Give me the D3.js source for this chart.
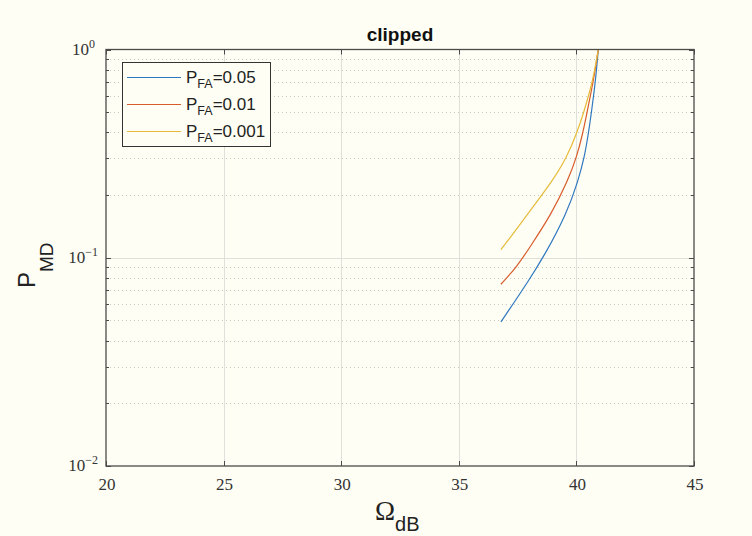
<!DOCTYPE html>
<html>
<head>
<meta charset="utf-8">
<script src="https://cdn.jsdelivr.net/npm/d3@7"></script>
<style>
body { margin:0; background:#fefef4; }
svg { display:block; }
</style>
</head>
<body>
<script>
// data
var omega_005 = [36.79, 37.32, 37.89, 38.59, 39.59, 40.08, 40.34, 40.51, 40.65, 40.76, 40.84, 40.93]
var pmd_005 = [0.0492, 0.0603, 0.0753, 0.1, 0.163, 0.235, 0.304, 0.394, 0.51, 0.636, 0.764, 1.0]
var omega_001 = [36.79, 37.46, 38.03, 38.95, 39.64, 40.01, 40.27, 40.47, 40.64, 40.77, 40.93]
var pmd_001 = [0.0746, 0.0903, 0.1127, 0.163, 0.235, 0.304, 0.394, 0.51, 0.636, 0.764, 1.0]
var omega_0001 = [36.79, 37.32, 37.94, 39.0, 39.59, 40.01, 40.34, 40.58, 40.75, 40.93]
var pmd_0001 = [0.1095, 0.1306, 0.163, 0.235, 0.304, 0.394, 0.51, 0.636, 0.764, 1.0]
var legend_labels = ["0.05", "0.01", "0.001"]
var x_ticks = [20, 25, 30, 35, 40, 45]
var y_ticks = [0.01, 0.1, 1]
var y_tick_exp = ["\u22122", "\u22121", "0"]
var colors = ["#2f78bf", "#d95b2a", "#e6bb3a"]

var w = 752, h = 536
var margin = {left:106, right:694, top:49.5, bottom:466}

var svg = d3.select("body").append("svg")
.attr("width", w)
.attr("height", h)

svg.append("rect")
.attr("width", w)
.attr("height", h)
.attr("fill", "#fefef4")

var x = d3.scaleLinear().domain([20, 45]).range([margin.left, margin.right])
var y = d3.scaleLog().domain([0.01, 1]).range([margin.bottom, margin.top])

// minor dotted grid
var minor = []
for (var d = 0.01; d < 1; d = d*10)
{
for (var k = 2; k <= 9; k++) minor.push(d*k)
}
svg.selectAll(".minorgrid").data(minor).enter().append("line")
.attr("class","minorgrid")
.attr("x1", margin.left).attr("x2", margin.right)
.attr("y1", function(d){ return Math.round(y(d))+0.5 })
.attr("y2", function(d){ return Math.round(y(d))+0.5 })
.attr("stroke", "#c8c8c0")
.attr("stroke-width", 1)
.attr("stroke-dasharray", "1,3")

// major grid
svg.selectAll(".vgrid").data(x_ticks.slice(1, -1)).enter().append("line")
.attr("class","vgrid")
.attr("x1", function(d){ return Math.round(x(d))+0.5 })
.attr("x2", function(d){ return Math.round(x(d))+0.5 })
.attr("y1", margin.top).attr("y2", margin.bottom)
.attr("stroke", "#e0e0da")
svg.selectAll(".hgrid").data([0.1]).enter().append("line")
.attr("class","hgrid")
.attr("x1", margin.left).attr("x2", margin.right)
.attr("y1", function(d){ return Math.round(y(d))+0.5 })
.attr("y2", function(d){ return Math.round(y(d))+0.5 })
.attr("stroke", "#e0e0da")

// curves
var series = [[omega_005, pmd_005], [omega_001, pmd_001], [omega_0001, pmd_0001]]
var line = d3.line()
.x(function(d){ return x(d[0]) })
.y(function(d){ return y(d[1]) })
.curve(d3.curveBasis)
series.forEach(function(s, i)
{
svg.append("path")
.datum(d3.zip(s[0], s[1]))
.attr("d", line)
.attr("fill", "none")
.attr("stroke", colors[i])
.attr("stroke-width", 1.2)
})

// box + ticks
var axis_color = "#4a4a4a"
svg.append("rect")
.attr("x", margin.left).attr("y", margin.top)
.attr("width", margin.right-margin.left)
.attr("height", margin.bottom-margin.top)
.attr("fill", "none")
.attr("stroke", axis_color)
.attr("stroke-width", 1.3)

x_ticks.forEach(function(t)
{
var xx = Math.round(x(t))+0.5
svg.append("line").attr("x1", xx).attr("x2", xx).attr("y1", margin.bottom).attr("y2", margin.bottom-5).attr("stroke", axis_color)
svg.append("line").attr("x1", xx).attr("x2", xx).attr("y1", margin.top).attr("y2", margin.top+5).attr("stroke", axis_color)
svg.append("text")
.attr("x", x(t)+1)
.attr("y", margin.bottom+24)
.attr("text-anchor", "middle")
.style("font-family", "Liberation Serif")
.style("font-size", "17px")
.attr("fill", "#333")
.text(t)
})
y_ticks.forEach(function(t)
{
var yy = Math.round(y(t))+0.5
svg.append("line").attr("x1", margin.left).attr("x2", margin.left+5).attr("y1", yy).attr("y2", yy).attr("stroke", axis_color)
svg.append("line").attr("x1", margin.right).attr("x2", margin.right-5).attr("y1", yy).attr("y2", yy).attr("stroke", axis_color)
})
minor.forEach(function(t)
{
var yy = Math.round(y(t))+0.5
svg.append("line").attr("x1", margin.left).attr("x2", margin.left+3).attr("y1", yy).attr("y2", yy).attr("stroke", axis_color)
svg.append("line").attr("x1", margin.right).attr("x2", margin.right-3).attr("y1", yy).attr("y2", yy).attr("stroke", axis_color)
})
y_ticks.forEach(function(t, i)
{
var tx = svg.append("text")
.attr("x", i == 2 ? 95 : 98)
.attr("y", y(t)+5)
.attr("text-anchor", "end")
.style("font-family", "Liberation Serif")
.style("font-size", "17px")
.attr("fill", "#333")
tx.append("tspan").text("10")
tx.append("tspan").attr("dy", -7).style("font-size", "12px").text(y_tick_exp[i])
})

// title
svg.append("text")
.attr("x", 400)
.attr("y", 41)
.attr("text-anchor", "middle")
.style("font-family", "Liberation Sans")
.style("font-weight", "bold")
.style("font-size", "19px")
.attr("fill", "#111")
.text("clipped")

// x label
var xl = svg.append("text")
.attr("x", 375)
.attr("y", 520)
.attr("fill", "#222")
xl.append("tspan").style("font-family", "Liberation Serif").style("font-size", "27px").text("\u03A9")
xl.append("tspan").attr("dy", 11).style("font-family", "Liberation Sans").style("font-size", "20px").text("dB")

// y label
var yl = svg.append("text")
.attr("transform", "translate(35,288) rotate(-90)")
.attr("fill", "#222")
yl.append("tspan").style("font-family", "Liberation Sans").style("font-size", "24px").text("P")
yl.append("tspan").attr("dy", 18).style("font-family", "Liberation Sans").style("font-size", "19px").text("MD")

// legend
var legend = svg.append("g")
legend.append("rect")
.attr("x", 122.5).attr("y", 62.5)
.attr("width", 148).attr("height", 84)
.attr("fill", "#fefef4")
.attr("stroke", "#333")
.attr("stroke-width", 1)
legend_labels.forEach(function(l, i)
{
var ly = 77.5 + i*27
legend.append("line")
.attr("x1", 127).attr("x2", 181)
.attr("y1", ly).attr("y2", ly)
.attr("stroke", colors[i])
.attr("stroke-width", 1.2)
var t = legend.append("text")
.attr("x", 186)
.attr("y", ly+5)
.style("font-family", "Liberation Sans")
.style("font-size", "17px")
.attr("fill", "#222")
t.append("tspan").text("P")
t.append("tspan").attr("dy", 5).style("font-size", "12.5px").text("FA")
t.append("tspan").attr("dy", -5).text("=" + l)
})
</script>
</body>
</html>
